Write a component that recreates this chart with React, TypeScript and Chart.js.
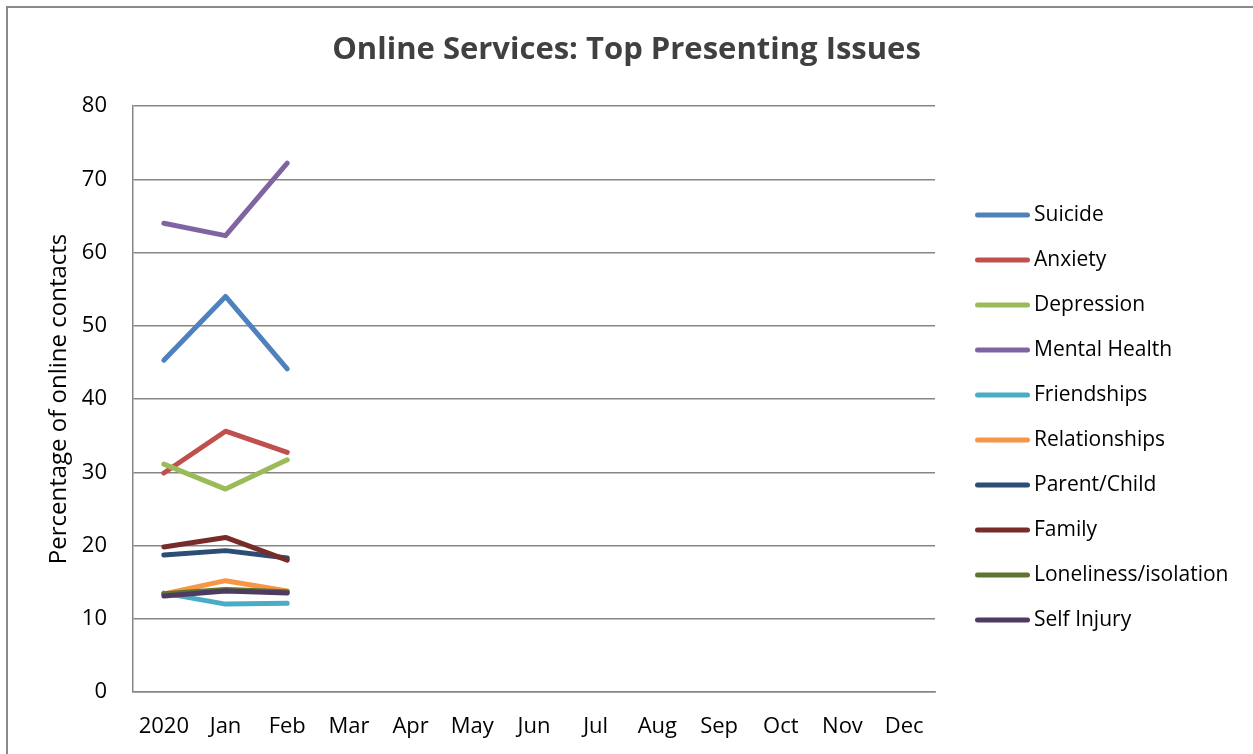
import React, { useEffect, useRef } from "react";
import { Chart, registerables } from "chart.js";

Chart.register(...registerables);

const categories = ["2020", "Jan", "Feb", "Mar", "Apr", "May", "Jun", "Jul", "Aug", "Sep", "Oct", "Nov", "Dec"];

const seriesNames = [
  "Suicide",
  "Anxiety",
  "Depression",
  "Mental Health",
  "Friendships",
  "Relationships",
  "Parent/Child",
  "Family",
  "Loneliness/isolation",
  "Self Injury",
];

const seriesColors = [
  "#4F81BD",
  "#C0504D",
  "#9BBB59",
  "#8064A2",
  "#4BACC6",
  "#F79646",
  "#2C4D75",
  "#772C2A",
  "#5F7530",
  "#4D3B62",
];

const suicide = [45.3, 54.0, 44.1];
const anxiety = [29.9, 35.6, 32.7];
const depression = [31.1, 27.7, 31.7];
const mentalHealth = [64.0, 62.3, 72.2];
const friendships = [13.5, 12.0, 12.1];
const relationships = [13.4, 15.2, 13.8];
const parentChild = [18.7, 19.3, 18.3];
const family = [19.8, 21.1, 18.0];
const loneliness = [13.4, 14.0, 13.7];
const selfInjury = [13.1, 13.8, 13.5];

const seriesValues = [
  suicide,
  anxiety,
  depression,
  mentalHealth,
  friendships,
  relationships,
  parentChild,
  family,
  loneliness,
  selfInjury,
];

const yMin = 0;
const yMax = 80;
const yStep = 10;

const FONT = "'Open Sans', Lato, sans-serif";

const sideLegend = {
  id: "sideLegend",
  afterDraw(chart: any) {
    const { ctx, chartArea } = chart;
    const x0 = chartArea.right + 40;
    let y = chartArea.top + 109;
    ctx.save();
    ctx.font = `21px ${FONT}`;
    ctx.textBaseline = "middle";
    ctx.textAlign = "left";
    chart.data.datasets.forEach((ds: any) => {
      ctx.strokeStyle = ds.borderColor;
      ctx.lineWidth = 5;
      ctx.lineCap = "round";
      ctx.beginPath();
      ctx.moveTo(x0 + 2.5, y);
      ctx.lineTo(x0 + 52.5, y);
      ctx.stroke();
      ctx.fillStyle = "#000000";
      ctx.fillText(ds.label, x0 + 59, y);
      y += 45;
    });
    ctx.restore();
  },
};

export default function App() {
  const canvasRef = useRef<HTMLCanvasElement | null>(null);

  useEffect(() => {
    if (!canvasRef.current) return;
    const n = seriesNames.length;
    const chart = new Chart(canvasRef.current, {
      type: "line",
      data: {
        labels: categories,
        datasets: seriesNames.map((name, i) => ({
          label: name,
          data: seriesValues[i],
          borderColor: seriesColors[i],
          backgroundColor: seriesColors[i],
          borderWidth: 5,
          borderCapStyle: "round",
          borderJoinStyle: "round",
          pointRadius: 0,
          pointHoverRadius: 0,
          tension: 0,
          fill: false,
          order: n - i,
        })),
      },
      options: {
        responsive: false,
        animation: false,
        layout: { padding: { left: 0, right: 0, top: 0, bottom: 0 } },
        plugins: {
          legend: { display: false },
          tooltip: { enabled: false },
          title: {
            display: true,
            text: "Online Services: Top Presenting Issues",
            color: "#404040",
            font: { family: FONT, size: 31, weight: "bold" },
            padding: { top: 32, bottom: 36.8 },
          },
        },
        scales: {
          x: {
            type: "category",
            offset: true,
            grid: { display: false, drawTicks: false },
            border: { display: true, color: "#868686", width: 1.5 },
            ticks: {
              color: "#000000",
              font: { family: FONT, size: 22 },
              padding: 22,
              autoSkip: false,
              maxRotation: 0,
            },
            afterFit: (s: any) => {
              s.height = 62;
            },
          },
          y: {
            type: "linear",
            position: "left",
            min: yMin,
            max: yMax,
            ticks: {
              stepSize: yStep,
              color: "#000000",
              font: { family: FONT, size: 22 },
              padding: 26,
            },
            grid: { color: "#868686", lineWidth: 1.5, drawTicks: false },
            border: { display: true, color: "#868686", width: 1.5 },
            title: {
              display: true,
              text: "Percentage of online contacts",
              color: "#000000",
              font: { family: FONT, size: 24 },
              padding: { top: 45, bottom: 0 },
            },
            afterFit: (s: any) => {
              s.width = 133;
            },
          },
          yr: {
            type: "linear",
            position: "right",
            display: true,
            grid: { display: false, drawTicks: false },
            border: { display: false },
            ticks: { display: false },
            afterFit: (s: any) => {
              s.width = 318;
            },
          },
        },
      },
      plugins: [sideLegend],
    } as any);
    return () => chart.destroy();
  }, []);

  return (
    <div
      style={{
        position: "fixed",
        left: 0,
        top: 0,
        width: 1253,
        height: 754,
        overflow: "hidden",
        background: "#ffffff",
      }}
    >
      <div
        style={{
          position: "absolute",
          left: 6,
          top: 6,
          width: 1400,
          height: 900,
          border: "2px solid #8a8a8a",
          boxSizing: "border-box",
        }}
      />
      <canvas
        ref={canvasRef}
        width={1253}
        height={754}
        style={{ position: "absolute", left: 0, top: 0, width: 1253, height: 754 }}
      />
    </div>
  );
}
